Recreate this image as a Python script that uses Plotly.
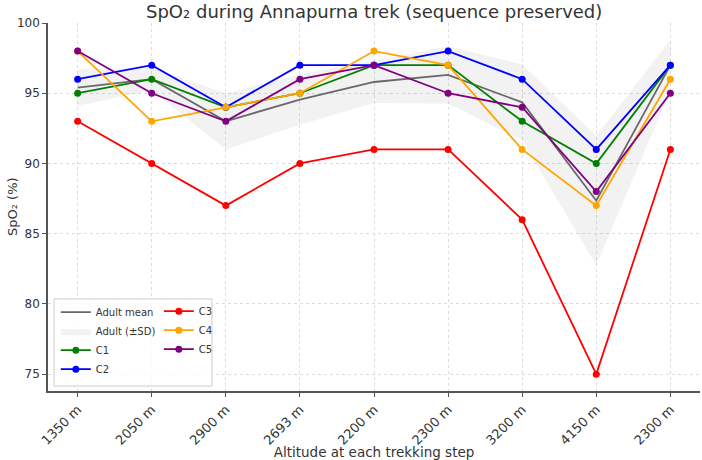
import plotly.graph_objects as go

altitudes = ["1350 m", "2050 m", "2900 m", "2693 m", "2200 m", "2300 m", "3200 m", "4150 m", "2300 m"]
adult_mean = [95.4, 96.0, 93.0, 94.55, 95.8, 96.3, 94.35, 87.35, 97.0]
adult_sd = [1.3, 0.8, 2.0, 1.8, 1.5, 2.05, 2.7, 4.6, 1.8]
c1 = [95, 96, 94, 95, 97, 97, 93, 90, 97]
c2 = [96, 97, 94, 97, 97, 98, 96, 91, 97]
c3 = [93, 90, 87, 90, 91, 91, 86, 75, 91]
c4 = [98, 93, 94, 95, 98, 97, 91, 87, 96]
c5 = [98, 95, 93, 96, 97, 95, 94, 88, 95]

children = [("C1", c1, "green"), ("C2", c2, "blue"), ("C3", c3, "red"),
            ("C4", c4, "orange"), ("C5", c5, "purple")]

idx = list(range(len(altitudes)))
upper = [m + s for m, s in zip(adult_mean, adult_sd)]
lower = [m - s for m, s in zip(adult_mean, adult_sd)]

fig = go.Figure()
fig.add_trace(go.Scatter(
    x=idx + idx[::-1], y=upper + lower[::-1], fill="toself",
    fillcolor="rgba(128,128,128,0.10)", line=dict(width=0), mode="lines",
    name="Adult (±SD)", legend="legend", legendrank=2, hoverinfo="skip"))
fig.add_trace(go.Scatter(
    x=idx, y=adult_mean, mode="lines", line=dict(color="#686868", width=1.8),
    name="Adult mean", legend="legend", legendrank=1))
for i, (nm, vals, col) in enumerate(children):
    fig.add_trace(go.Scatter(
        x=idx, y=vals, mode="lines+markers", name=nm,
        line=dict(color=col, width=1.8), marker=dict(color=col, size=7),
        legend="legend" if i < 2 else "legend2", legendrank=3 + i))

font = "DejaVu Sans, sans-serif"
leg_common = dict(bgcolor="rgba(0,0,0,0)", borderwidth=0,
                  font=dict(size=10, color="#333", family=font),
                  tracegroupgap=0, itemwidth=30, traceorder="normal")

fig.update_layout(
    width=702, height=460,
    margin=dict(l=48, r=2, t=23, b=69, autoexpand=False),
    paper_bgcolor="white", plot_bgcolor="white",
    font=dict(family=font, color="#333"),
    title=dict(text="SpO₂ during Annapurna trek (sequence preserved)",
               x=0.533, xanchor="center", y=1 - 12 / 460, yanchor="middle",
               yref="container", font=dict(size=18, color="#333")),
    xaxis=dict(range=[-0.4, 8.4], tickmode="array", tickvals=idx, ticktext=altitudes,
               tickangle=-45, showgrid=True, gridcolor="#dcdcdc", griddash="3px,3px",
               gridwidth=1, zeroline=False, showline=True, linecolor="#555", linewidth=1.5,
               ticks="outside", ticklen=4, tickcolor="#555", tickfont=dict(size=13, color="#333"),
               automargin=False,
               title=dict(text="Altitude at each trekking step", font=dict(size=13.5, color="#333"),
                          standoff=0)),
    yaxis=dict(range=[73.8, 100], tickmode="array", tickvals=[75, 80, 85, 90, 95, 100],
               showgrid=True, gridcolor="#dcdcdc", griddash="3px,3px", gridwidth=1,
               zeroline=False, showline=True, linecolor="#555", linewidth=1.5,
               ticks="outside", ticklen=4, tickcolor="#555", tickfont=dict(size=12, color="#333"),
               automargin=False),
    annotations=[dict(text="SpO₂ (%)", xref="paper", yref="paper",
                      x=-36 / 652, y=0.5, xanchor="center", yanchor="middle",
                      textangle=-90, showarrow=False,
                      font=dict(size=13, color="#333", family=font))],
    legend=dict(x=0.012, y=0.02, xanchor="left", yanchor="bottom", **leg_common),
    legend2=dict(x=0.17, y=0.02 + 87 / 368, xanchor="left", yanchor="top", **leg_common),
    showlegend=True,
    shapes=[dict(type="rect", xref="paper", yref="paper",
                 x0=(54 - 48) / 652, x1=(212 - 48) / 652,
                 y0=(391 - 386) / 368, y1=(391 - 299) / 368,
                 fillcolor="rgba(255,255,255,0.8)", line=dict(color="#cccccc", width=1),
                 layer="above")],
)

fig.write_html("out.html")
